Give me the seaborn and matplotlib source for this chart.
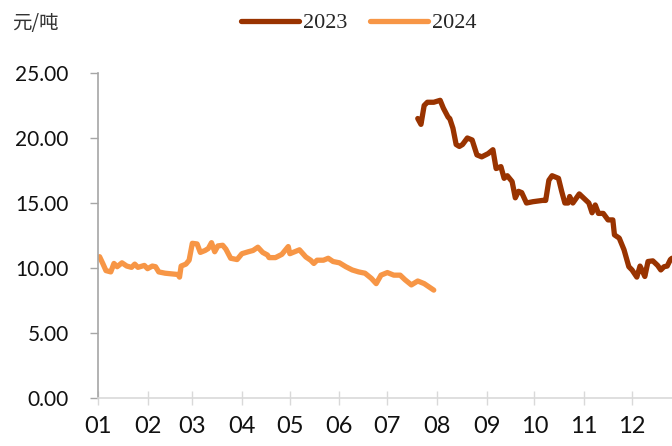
import pandas as pd
import matplotlib.pyplot as plt
import matplotlib.dates as mdates
import seaborn as sns

# 2023 price series (元/吨), Jul-Dec
dates_2023 = ['07-20', '07-22', '07-24', '07-26', '07-30', '08-03', '08-05', '08-08', '08-09',
              '08-11', '08-13', '08-15', '08-17', '08-20', '08-23', '08-26', '08-29', '09-02',
              '09-05', '09-07', '09-10', '09-12', '09-14', '09-17', '09-19', '09-21', '09-23',
              '09-26', '09-30', '10-06', '10-08', '10-10', '10-12', '10-16', '10-18', '10-20',
              '10-22', '10-23', '10-25', '10-29', '11-01', '11-04', '11-06', '11-08', '11-10',
              '11-13', '11-16', '11-19', '11-20', '11-23', '11-26', '11-29', '12-01', '12-04',
              '12-06', '12-07', '12-09', '12-11', '12-14', '12-17', '12-19', '12-21', '12-23',
              '12-25', '12-26']
price_2023 = [21.5, 21.05, 22.5, 22.75, 22.75, 22.9, 22.3, 21.6, 21.5,
              20.75, 19.5, 19.35, 19.5, 20.0, 19.85, 18.7, 18.55, 18.8,
              19.1, 17.65, 17.8, 16.9, 17.1, 16.65, 15.4, 15.9, 15.8,
              15.0, 15.1, 15.2, 15.2, 16.75, 17.1, 16.9, 15.9, 15.0,
              15.0, 15.5, 15.0, 15.7, 15.35, 15.0, 14.25, 14.85, 14.2,
              14.2, 13.7, 13.7, 12.55, 12.3, 11.4, 10.1, 9.85, 9.3,
              10.15, 9.9, 9.35, 10.5, 10.55, 10.2, 9.85, 10.1, 10.15,
              10.65, 10.75]

# 2024 price series (元/吨), Jan-Jul
dates_2024 = ['01-02', '01-04', '01-06', '01-09', '01-11', '01-13', '01-16', '01-19', '01-22',
              '01-24', '01-26', '01-30', '02-01', '02-04', '02-06', '02-08', '02-12', '02-20',
              '02-21', '02-22', '02-25', '02-27', '03-01', '03-04', '03-06', '03-09', '03-11',
              '03-13', '03-15', '03-17', '03-20', '03-22', '03-25', '03-29', '04-01', '04-05',
              '04-08', '04-11', '04-14', '04-17', '04-18', '04-22', '04-26', '04-30', '05-01',
              '05-04', '05-07', '05-11', '05-14', '05-16', '05-18', '05-22', '05-25', '05-28',
              '06-01', '06-05', '06-09', '06-13', '06-17', '06-21', '06-24', '06-27', '07-01',
              '07-05', '07-09', '07-12', '07-16', '07-20', '07-24', '07-27', '07-30']
price_2024 = [10.87, 10.35, 9.8, 9.7, 10.35, 10.1, 10.4, 10.15, 10.05,
              10.3, 10.05, 10.2, 9.95, 10.15, 10.1, 9.7, 9.6, 9.5,
              9.3, 10.15, 10.3, 10.6, 11.9, 11.85, 11.2, 11.35, 11.5,
              11.95, 11.25, 11.7, 11.75, 11.45, 10.75, 10.65, 11.1, 11.25,
              11.35, 11.6, 11.2, 11.0, 10.8, 10.8, 11.05, 11.65, 11.1,
              11.25, 11.4, 10.85, 10.6, 10.35, 10.6, 10.6, 10.75, 10.5,
              10.4, 10.1, 9.85, 9.7, 9.6, 9.2, 8.8, 9.45, 9.65,
              9.45, 9.45, 9.1, 8.7, 9.0, 8.8, 8.55, 8.3]

years = ['2023', '2024']
colors = {'2023': '#993300', '2024': '#F79646'}

# both years share one month-day axis (plotted on a common year)
df = pd.concat([
    pd.DataFrame({'date': pd.to_datetime(['2023-' + d for d in dates_2023]),
                  'price': price_2023, 'year': '2023'}),
    pd.DataFrame({'date': pd.to_datetime(['2023-' + d for d in dates_2024]),
                  'price': price_2024, 'year': '2024'}),
])

sns.set_style('white')
plt.rcParams['font.family'] = ['Lato', 'Noto Sans CJK SC', 'DejaVu Sans']

fig = plt.figure(figsize=(6.72, 4.46), dpi=100)
ax = fig.add_axes([0.1458, 0.1076, 0.8542, 0.7287])

sns.lineplot(data=df, x='date', y='price', hue='year', hue_order=years,
             palette=colors, linewidth=3.8, ax=ax, legend=False,
             solid_capstyle='round', solid_joinstyle='round')

ax.set_xlim(pd.Timestamp('2023-01-01'), pd.Timestamp('2023-12-26'))
ax.set_ylim(0, 25)
ax.set_yticks([0, 5, 10, 15, 20, 25])
ax.yaxis.set_major_formatter(plt.FuncFormatter(lambda v, p: f'{v:.2f}'))
ax.xaxis.set_major_locator(mdates.MonthLocator())
ax.xaxis.set_major_formatter(mdates.DateFormatter('%m'))
ax.set_xlabel('')
ax.set_ylabel('')

for s in ['top', 'right']:
    ax.spines[s].set_visible(False)
ax.spines['left'].set_color('#A6A6A6')
ax.spines['bottom'].set_color('#D9D9D9')
ax.spines['left'].set_linewidth(1.2)
ax.spines['bottom'].set_linewidth(1.2)

ax.tick_params(axis='y', direction='out', length=6, width=1, color='#A6A6A6',
               labelsize=15, pad=15, left=True, labelcolor='#111111')
ax.tick_params(axis='x', direction='inout', length=10, width=1, color='#D9D9D9',
               labelsize=17, pad=8, bottom=True, labelcolor='#111111')

fig.text(0.018, 0.948, '元/吨', fontsize=14, family=['Noto Sans CJK SC'],
         va='center', ha='left', color='#333333')

handles = [plt.Line2D([], [], color=colors[y], linewidth=3.8, solid_capstyle='round')
           for y in years]
fig.legend(handles, years, loc='center', bbox_to_anchor=(0.534, 0.948), ncol=2,
           frameon=False, handlelength=2.6, handletextpad=0.2, columnspacing=1.0,
           prop={'family': 'Liberation Serif', 'size': 16})

fig.savefig('out.png', dpi=100)
